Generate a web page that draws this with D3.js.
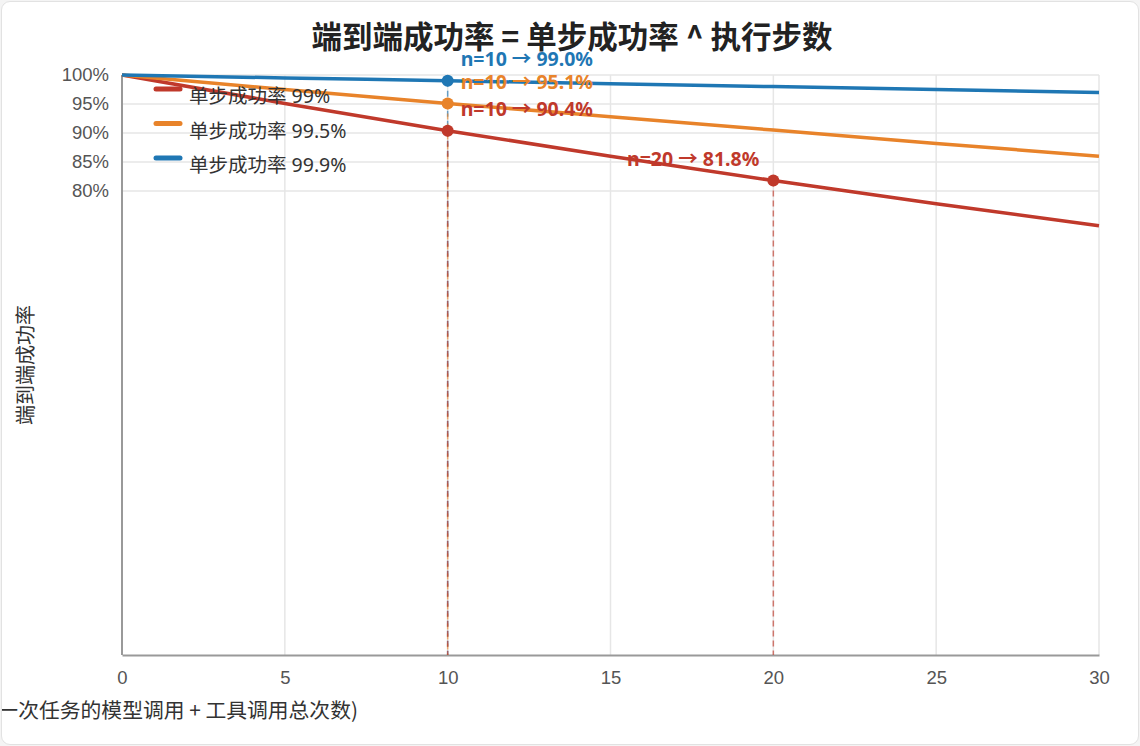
<!DOCTYPE html>
<html>
<head>
<meta charset="utf-8">
<script src="https://cdn.jsdelivr.net/npm/d3@7"></script>
<style>
  html, body { margin: 0; padding: 0; background: #f4f4f4; }
  #card {
    position: absolute; left: 1px; top: 1px; width: 1136px; height: 742px;
    background: #fff; border: 1px solid #e2e2e2; border-radius: 9px; overflow: hidden;
  }
  svg { font-family: "Noto Sans", "Noto Sans CJK SC", sans-serif; }
</style>
</head>
<body>
<div id="card"><svg id="chart" width="1136" height="742"></svg></div>
<script>
// data
const steps = [0, 5, 10, 15, 20, 25, 30];
const seriesNames = ['单步成功率 99%', '单步成功率 99.5%', '单步成功率 99.9%'];
const seriesColors = ['#c0392b', '#e8832a', '#1f77b4'];
const rate99 = [1, 0.951, 0.904, 0.860, 0.818, 0.778, 0.740];
const rate995 = [1, 0.975, 0.951, 0.928, 0.905, 0.882, 0.860];
const rate999 = [1, 0.995, 0.990, 0.985, 0.980, 0.975, 0.970];
const yTicks = [0.8, 0.85, 0.9, 0.95, 1];
const xTicks = [0, 5, 10, 15, 20, 25, 30];
// annotated points: series index, step, value
const marks = [
  { s: 2, n: 10, v: 0.990 },
  { s: 1, n: 10, v: 0.951 },
  { s: 0, n: 10, v: 0.904 },
  { s: 0, n: 20, v: 0.818 }
];

const series = [rate99, rate995, rate999];
const svg = d3.select('#chart');
const margin = { left: 120, right: 39, top: 73, bottom: 89 };
const width = 1136, height = 742;
const cjk = '"Noto Sans CJK SC", sans-serif';

const x = d3.scaleLinear().domain([0, 30]).range([margin.left, width - margin.right]);
const y = d3.scaleLinear().domain([0, 1]).range([height - margin.bottom, margin.top]);

// grid
svg.append('g').selectAll('line')
  .data(xTicks.slice(1))
  .join('line')
  .attr('x1', d => x(d)).attr('x2', d => x(d))
  .attr('y1', y(1)).attr('y2', y(0))
  .attr('stroke', '#e6e6e6').attr('stroke-width', 1.5);

svg.append('g').selectAll('line')
  .data(yTicks)
  .join('line')
  .attr('x1', x(0)).attr('x2', x(30))
  .attr('y1', d => y(d)).attr('y2', d => y(d))
  .attr('stroke', '#e6e6e6').attr('stroke-width', 1.5);

// axes
const xAxis = svg.append('g')
  .attr('transform', `translate(0,${y(0)})`)
  .call(d3.axisBottom(x).tickValues(xTicks).tickSize(0).tickPadding(16));
const yAxis = svg.append('g')
  .attr('transform', `translate(${x(0)},0)`)
  .call(d3.axisLeft(y).tickValues(yTicks).tickSize(0).tickPadding(13)
    .tickFormat(d => Math.round(d * 100) + '%'));

[xAxis, yAxis].forEach(a => {
  a.select('.domain').attr('stroke', '#999').attr('stroke-width', 2);
  a.selectAll('text').attr('fill', '#555').style('font-size', '18.5px');
});
yAxis.select('.domain').attr('d', `M0,${y(1)}V${y(0)}`);

// axis titles
svg.append('text')
  .attr('transform', `translate(26,${(y(0) + y(1)) / 2}) rotate(-90)`)
  .attr('text-anchor', 'middle')
  .attr('dominant-baseline', 'middle')
  .attr('fill', '#333')
  .style('font-size', '20px')
  .style('font-family', cjk)
  .text('端到端成功率');

svg.append('text')
  .attr('x', 356).attr('y', 716)
  .attr('text-anchor', 'end')
  .attr('fill', '#333')
  .style('font-size', '20.8px')
  .style('font-family', cjk)
  .text('执行步数 n (一次任务的模型调用 + 工具调用总次数)');

// title
svg.append('text')
  .attr('x', 570).attr('y', 46)
  .attr('text-anchor', 'middle')
  .attr('fill', '#222')
  .style('font-size', '30.5px')
  .style('font-weight', 'bold')
  .style('font-family', cjk)
  .text('端到端成功率 = 单步成功率 ^ 执行步数');

// drop lines
const drops = svg.append('g');
marks.forEach(m => {
  drops.append('line')
    .attr('x1', x(m.n)).attr('x2', x(m.n))
    .attr('y1', y(m.v)).attr('y2', y(0))
    .attr('stroke', seriesColors[m.s])
    .attr('stroke-opacity', 0.65)
    .attr('stroke-width', 1.5)
    .attr('stroke-dasharray', '6,4');
});

// lines
const line = d3.line()
  .x((d, i) => x(steps[i]))
  .y(d => y(d))
  .curve(d3.curveMonotoneX);

svg.append('g').selectAll('path')
  .data(series)
  .join('path')
  .attr('d', line)
  .attr('fill', 'none')
  .attr('stroke', (d, i) => seriesColors[i])
  .attr('stroke-width', 3.5);

// markers + labels
marks.forEach(m => {
  svg.append('circle')
    .attr('cx', x(m.n)).attr('cy', y(m.v))
    .attr('r', 6)
    .attr('fill', seriesColors[m.s]);
  const right = m.n === 10;
  svg.append('text')
    .attr('x', right ? x(m.n) + 13 : x(m.n) - 14)
    .attr('y', y(m.v) - 20)
    .attr('text-anchor', right ? 'start' : 'end')
    .attr('dominant-baseline', 'middle')
    .attr('fill', seriesColors[m.s])
    .style('font-size', '19.5px')
    .style('font-weight', 'bold')
    .text(`n=${m.n} → ${(m.v * 100).toFixed(1)}%`);
});

// legend
const legend = svg.append('g').attr('transform', 'translate(152,87)');
const item = legend.selectAll('g')
  .data(seriesNames)
  .join('g')
  .attr('transform', (d, i) => `translate(0,${i * 34.5})`);
item.append('line')
  .attr('x1', 2).attr('x2', 26)
  .attr('stroke', (d, i) => seriesColors[i])
  .attr('stroke-width', 5)
  .attr('stroke-linecap', 'round');
item.append('text')
  .attr('x', 35).attr('y', 9)
  .attr('dominant-baseline', 'middle')
  .attr('fill', '#333')
  .style('font-size', '19.5px')
  .text(d => d);
</script>
</body>
</html>
